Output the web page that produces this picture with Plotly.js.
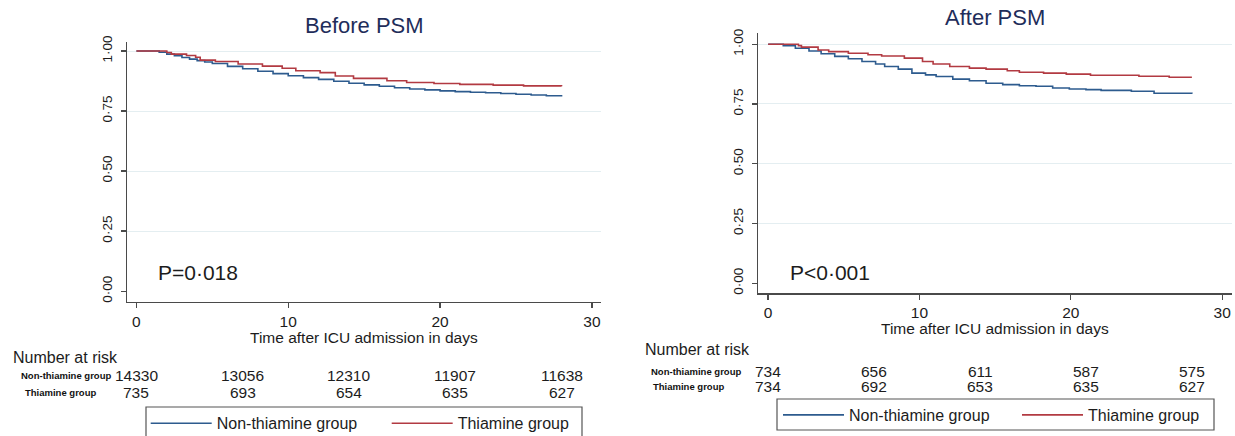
<!DOCTYPE html>
<html>
<head>
<meta charset="utf-8">
<script src="https://cdn.plot.ly/plotly-3.0.1.min.js"></script>
<style>html,body{margin:0;padding:0;background:#fff;}#chart{width:1235px;height:436px;}</style>
</head>
<body>
<div id="chart"></div>
<script>
// ---- data ----
const groupNames = ["Non-thiamine group", "Thiamine group"];
const panelTitles = ["Before PSM", "After PSM"];
const pValues = ["P=0·018", "P<0·001"];
const xTickVals = [0, 10, 20, 30];
const yTickVals = [0, 0.25, 0.5, 0.75, 1];
const yTickText = ["0·00", "0·25", "0·50", "0·75", "1·00"];
const xAxisTitle = "Time after ICU admission in days";
const riskTitle = "Number at risk";
const riskTimes = [0, 7, 14, 21, 28];

const beforeRiskNon = [14330, 13056, 12310, 11907, 11638];
const beforeRiskThi = [735, 693, 654, 635, 627];
const afterRiskNon = [734, 656, 611, 587, 575];
const afterRiskThi = [734, 692, 653, 635, 627];

// Kaplan-Meier step curves (time in days, survival probability)
const beforeNonT = [0, 1, 1.5, 2, 2.5, 3, 3.5, 4, 4.5, 5, 6, 7, 8, 9, 10, 11, 12, 13, 14, 15, 16, 17, 18, 19, 20, 21, 22, 23, 24, 25, 26, 27, 28];
const beforeNonS = [1, 1, 0.995, 0.987, 0.980, 0.973, 0.966, 0.960, 0.954, 0.948, 0.936, 0.926, 0.916, 0.906, 0.897, 0.889, 0.882, 0.874, 0.866, 0.859, 0.853, 0.847, 0.842, 0.838, 0.834, 0.831, 0.828, 0.826, 0.823, 0.820, 0.817, 0.814, 0.811];
const beforeThiT = [0, 2.0, 2.3, 3.3, 3.9, 4.2, 5.2, 6.7, 8.3, 9.6, 10.5, 12.1, 13.1, 14.3, 16.5, 17.8, 19.6, 21.3, 23.5, 25.5, 28];
const beforeThiS = [1, 0.994, 0.987, 0.981, 0.974, 0.962, 0.956, 0.946, 0.937, 0.928, 0.918, 0.910, 0.896, 0.886, 0.876, 0.869, 0.865, 0.861, 0.858, 0.855, 0.853];

const afterNonT = [0, 1.0, 1.8, 2.7, 3.5, 4.4, 5.3, 6.2, 7.1, 7.7, 8.6, 9.5, 10.4, 11.1, 12.2, 13.3, 14.4, 15.5, 16.6, 17.7, 18.8, 19.9, 21.0, 22.0, 24.0, 25.5, 28];
const afterNonS = [1, 0.994, 0.983, 0.972, 0.960, 0.949, 0.939, 0.928, 0.917, 0.907, 0.896, 0.879, 0.872, 0.865, 0.854, 0.847, 0.837, 0.831, 0.826, 0.824, 0.817, 0.813, 0.810, 0.807, 0.803, 0.795, 0.793];
const afterThiT = [0, 2.0, 2.2, 3.3, 4.0, 5.3, 6.6, 7.5, 9.0, 10.2, 10.9, 12.0, 13.3, 14.4, 15.8, 16.6, 18.2, 19.7, 21.3, 24.5, 26.5, 28];
const afterThiS = [1, 0.994, 0.988, 0.976, 0.969, 0.962, 0.956, 0.951, 0.942, 0.928, 0.917, 0.907, 0.900, 0.896, 0.889, 0.883, 0.879, 0.875, 0.870, 0.866, 0.862, 0.862];

// ---- styling ----
const W = 1235, H = 436;
const FONT = "'Liberation Sans', Arial, sans-serif";
const BLUE = "#2d5b8e", RED = "#b23a42", AX = "#4a4a4a", TXT = "#1c1c1c";
const px = v => v / W;           // horizontal pixel -> paper
const py = v => 1 - v / H;       // vertical pixel -> paper

function km(x, y, name, color, xa, ya, legendId) {
  return {type: "scatter", mode: "lines", x: x, y: y, name: name,
          line: {color: color, width: 1.6, shape: "hv"},
          xaxis: xa, yaxis: ya, legend: legendId, showlegend: true, hoverinfo: "skip"};
}
const traces = [
  km(beforeNonT, beforeNonS, groupNames[0], BLUE, "x", "y", "legend"),
  km(beforeThiT, beforeThiS, groupNames[1], RED, "x", "y", "legend"),
  km(afterNonT, afterNonS, groupNames[0], BLUE, "x2", "y2", "legend2"),
  km(afterThiT, afterThiS, groupNames[1], RED, "x2", "y2", "legend2")
];

function xAxis(domain, range, anchor) {
  return {domain: domain, range: range, anchor: anchor, tickvals: xTickVals,
          ticks: "outside", ticklen: 5, tickwidth: 1.3, tickcolor: AX,
          showline: true, linecolor: AX, linewidth: 1.5, showgrid: false, zeroline: false,
          tickfont: {family: FONT, size: 15.5, color: TXT}, fixedrange: true};
}
function yAxis(domain, range, anchor) {
  return {domain: domain, range: range, anchor: anchor, tickvals: yTickVals, ticktext: yTickText,
          tickangle: -90, ticks: "outside", ticklen: 5, tickwidth: 1.3, tickcolor: AX,
          ticklabelstandoff: 3,
          showline: true, linecolor: AX, linewidth: 1.5,
          showgrid: true, gridcolor: "#e4eef1", gridwidth: 1,
          zeroline: true, zerolinecolor: "rgba(0,0,0,0)",
          tickfont: {family: FONT, size: 13.5, color: TXT}, fixedrange: true};
}

const annotations = [];
function txt(text, x, y, size, opts) {
  annotations.push(Object.assign({text: text, x: x, y: y, xref: "paper", yref: "paper",
    showarrow: false, xanchor: "center", yanchor: "middle",
    font: {family: FONT, size: size, color: TXT}}, opts || {}));
}

// panel titles
txt(panelTitles[0], 0.5, py(25), 22, {xref: "x domain", font: {family: FONT, size: 22, color: "#1f2d5a"}});
txt(panelTitles[1], 0.5, py(18), 22, {xref: "x2 domain", font: {family: FONT, size: 22, color: "#1f2d5a"}});
// x axis titles
txt(xAxisTitle, 0.5, py(337), 15.5, {xref: "x domain"});
txt(xAxisTitle, 0.5, py(328.5), 15.5, {xref: "x2 domain"});
// p values
txt(pValues[0], px(156), py(272), 21, {xanchor: "left"});
txt(pValues[1], px(788), py(272), 21, {xanchor: "left"});
// risk tables
txt(riskTitle, px(11), py(357), 16, {xanchor: "left"});
txt(riskTitle, px(643), py(349), 16, {xanchor: "left"});
const boldFont = {family: FONT, size: 9.5, color: "#111", weight: "bold"};
txt("<b>" + groupNames[0] + "</b>", px(66), py(375), 9.5, {font: boldFont});
txt("<b>" + groupNames[1] + "</b>", px(60), py(392.5), 9.5, {font: boldFont});
txt("<b>" + groupNames[0] + "</b>", px(696), py(371), 9.5, {font: boldFont});
txt("<b>" + groupNames[1] + "</b>", px(688), py(386), 9.5, {font: boldFont});
riskTimes.forEach((t, i) => {
  txt(String(beforeRiskNon[i]), t, py(375), 15.5, {xref: "x"});
  txt(String(beforeRiskThi[i]), t, py(392.5), 15.5, {xref: "x"});
  txt(String(afterRiskNon[i]), t, py(371), 15.5, {xref: "x2"});
  txt(String(afterRiskThi[i]), t, py(386), 15.5, {xref: "x2"});
});

// legend frames
const shapes = [
  {type: "rect", xref: "paper", yref: "paper", x0: px(146), x1: px(582), y0: py(470), y1: py(407),
   line: {color: "#555", width: 1.2}, fillcolor: "rgba(0,0,0,0)"},
  {type: "rect", xref: "paper", yref: "paper", x0: px(777), x1: px(1214), y0: py(430), y1: py(399),
   line: {color: "#555", width: 1.2}, fillcolor: "rgba(0,0,0,0)"}
];

function legendCfg(x, y, entry) {
  return {orientation: "h", x: x, y: y, xanchor: "left", yanchor: "middle",
          bgcolor: "rgba(0,0,0,0)", borderwidth: 0, itemwidth: 61,
          entrywidth: entry, entrywidthmode: "pixels",
          font: {family: FONT, size: 16, color: TXT}, itemclick: false, itemdoubleclick: false};
}

const layout = {
  width: W, height: H,
  margin: {l: 0, r: 0, t: 0, b: 0, pad: 0, autoexpand: false},
  paper_bgcolor: "#fff", plot_bgcolor: "#fff",
  showlegend: true,
  xaxis: xAxis([px(127), px(601)], [-0.62, 30.6], "y"),
  yaxis: yAxis([py(301.5), py(42)], [-0.043, 1.0375], "x"),
  xaxis2: xAxis([px(758), px(1232)], [-0.67, 30.65], "y2"),
  yaxis2: yAxis([py(293.3), py(33)], [-0.042, 1.047], "x2"),
  legend: legendCfg(px(145.7), py(423.3), 165),
  legend2: legendCfg(px(778), py(415), 163),
  annotations: annotations,
  shapes: shapes
};

Plotly.newPlot("chart", traces, layout, {displayModeBar: false, staticPlot: true});
</script>
</body>
</html>
